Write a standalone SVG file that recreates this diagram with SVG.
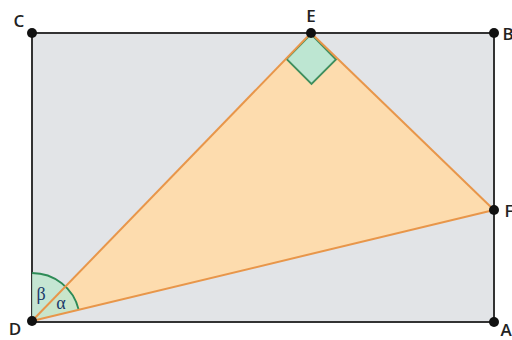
<svg xmlns="http://www.w3.org/2000/svg" width="512" height="340" viewBox="0 0 512 340">
<style>
.lbl{font-family:"Open Sans","Liberation Sans",sans-serif;font-size:17px;font-weight:600;fill:#222;text-anchor:middle}
.greek{font-family:"Liberation Serif",serif;font-size:18px;fill:#1a3a6a;text-anchor:middle}
.pt{fill:#111}
.edge{stroke:#e8964a;stroke-width:2;fill:none}
</style>
<rect width="512" height="340" fill="#fff"/>
<g id="rect">
<rect x="32" y="33" width="462" height="289" fill="#e2e4e7" stroke="#333" stroke-width="2"/>
</g>
<g id="triangle">
<polygon points="32,321 311,33 494,210" fill="#fddcae"/>
</g>
<g id="angles">
<path d="M32,321 L32,273 A48,48 0 0 1 78.7,309.8 Z" fill="#bfe6cf" opacity="0.85"/>
<path d="M32,273 A48,48 0 0 1 78.7,309.8" fill="none" stroke="#2e8b57" stroke-width="1.8"/>
<polygon points="311,34 286.5,59 311.5,84 336,59.5" fill="#bde6d2" stroke="#3f8f5e" stroke-width="1.8"/>
</g>
<g id="connectors">
<line class="edge" x1="32" y1="321" x2="311" y2="33"/>
<line class="edge" x1="311" y1="33" x2="494" y2="210"/>
<line class="edge" x1="32" y1="321" x2="494" y2="210"/>
</g>
<g id="C"><circle class="pt" cx="32" cy="33" r="5"/><text class="lbl" x="19" y="27">C</text></g>
<g id="E"><circle class="pt" cx="311" cy="33" r="5"/><text class="lbl" x="311" y="22">E</text></g>
<g id="B"><circle class="pt" cx="494" cy="33" r="5"/><text class="lbl" x="508" y="40">B</text></g>
<g id="F"><circle class="pt" cx="494" cy="210" r="5"/><text class="lbl" x="509" y="217">F</text></g>
<g id="A"><circle class="pt" cx="494" cy="322" r="5"/><text class="lbl" x="506" y="336">A</text></g>
<g id="D"><circle class="pt" cx="32" cy="321" r="5"/><text class="lbl" x="15" y="335">D</text></g>
<text class="greek" x="41" y="300">β</text>
<text class="greek" x="61" y="309">α</text>
</svg>
